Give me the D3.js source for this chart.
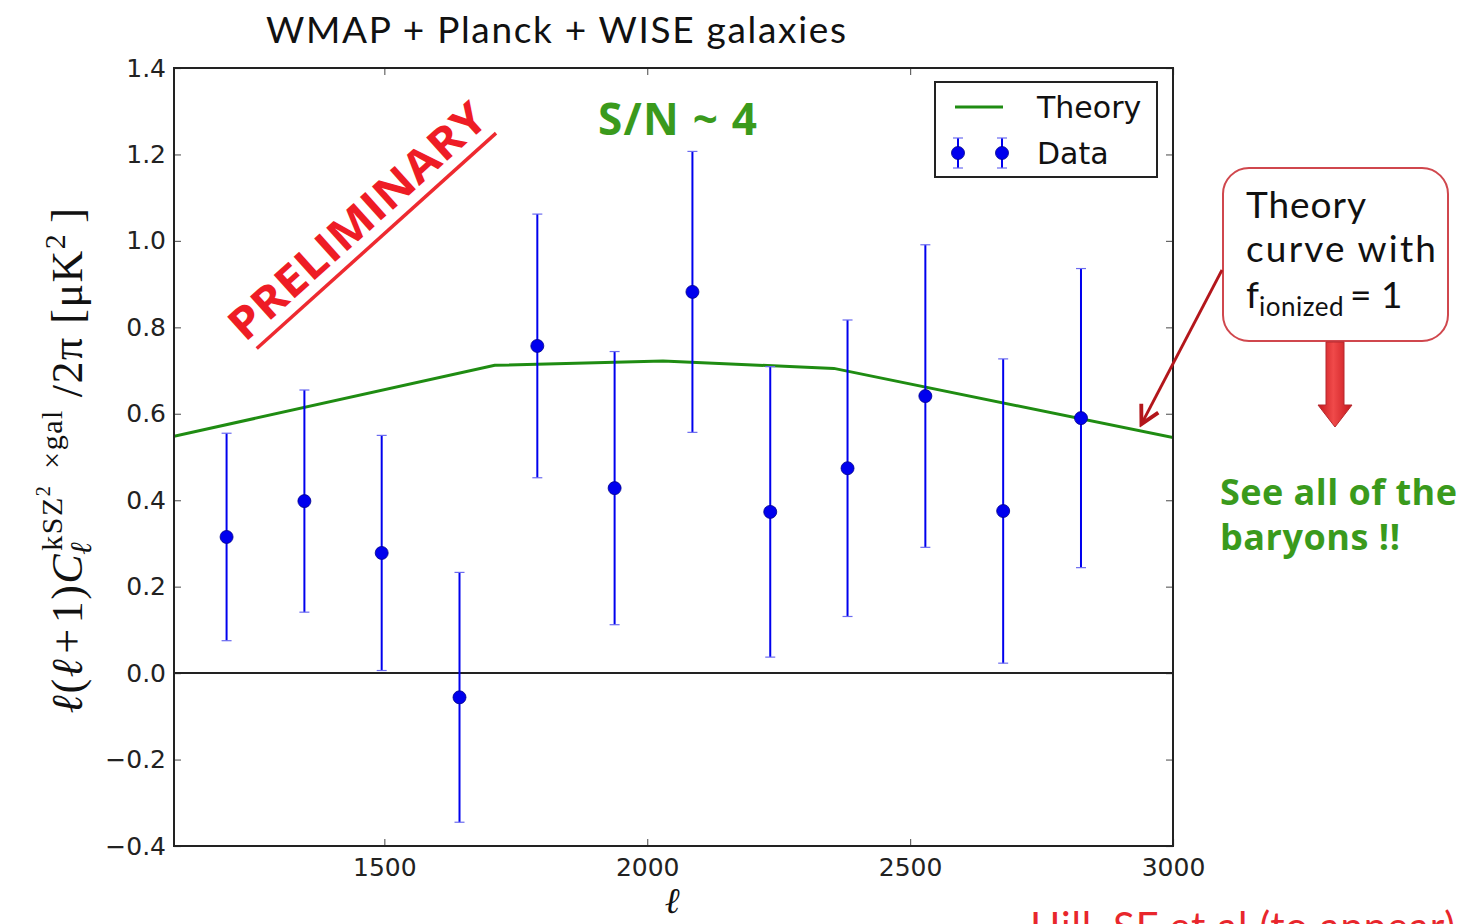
<!DOCTYPE html>
<html>
<head>
<meta charset="utf-8">
<script src="https://cdn.jsdelivr.net/npm/d3@7"></script>
<style>
  html, body { margin: 0; padding: 0; background: #fff; overflow: hidden; }
  svg { display: block; }
</style>
</head>
<body>
<svg id="chart" width="1469" height="924"></svg>
<script>
// Multipole bin centres (ℓ)
const ell = [1200, 1348, 1495, 1643, 1791, 1938, 2086, 2234, 2381, 2529, 2677, 2825];
// Measured kSZ² × galaxy cross-power, ℓ(ℓ+1)C_ℓ/2π [μK²]
const dataValues = [0.315, 0.398, 0.278, -0.056, 0.757, 0.428, 0.882, 0.373, 0.474, 0.641, 0.375, 0.590];
// 1σ error bars
const dataErrors = [0.240, 0.257, 0.272, 0.289, 0.305, 0.316, 0.325, 0.336, 0.343, 0.350, 0.352, 0.346];
// Theory curve (f_ionized = 1)
const theoryEll = [1100, 1710, 2030, 2355, 3000];
const theoryValues = [0.548, 0.712, 0.722, 0.705, 0.545];
// Axis ticks
const xTicks = [1500, 2000, 2500, 3000];
const yTicks = [-0.4, -0.2, 0.0, 0.2, 0.4, 0.6, 0.8, 1.0, 1.2, 1.4];

const svg = d3.select("#chart");
const plot = { left: 174, right: 1173, top: 68, bottom: 846 };

const x = d3.scaleLinear().domain([1100, 3000]).range([plot.left, plot.right]);
const y = d3.scaleLinear().domain([-0.4, 1.4]).range([plot.bottom, plot.top]);

const tickFont = "'DejaVu Sans', sans-serif";
const blue = "#0000ee";
const green = "#1f8c12";
const slideFont = "Lato, 'Open Sans', sans-serif";

// Title
svg.append("text")
  .attr("x", 266).attr("y", 43)
  .attr("font-family", slideFont)
  .attr("font-size", 37)
  .attr("fill", "#111")
  .attr("textLength", 580).attr("lengthAdjust", "spacing")
  .text("WMAP + Planck + WISE galaxies");

// Axes: ticks pointing inward on all four sides
const axisLeft = d3.axisLeft(y).tickValues(yTicks).tickSizeInner(-7).tickSizeOuter(0)
  .tickPadding(8).tickFormat(d => d3.format(".1f")(d).replace("-", "\u2212"));
const axisRight = d3.axisRight(y).tickValues(yTicks).tickSizeInner(-7).tickSizeOuter(0).tickFormat("");
const axisBottom = d3.axisBottom(x).tickValues(xTicks).tickSizeInner(-7).tickSizeOuter(0)
  .tickPadding(10).tickFormat(d3.format("d"));
const axisTop = d3.axisTop(x).tickValues(xTicks).tickSizeInner(-7).tickSizeOuter(0).tickFormat("");

function styleAxis(g) {
  g.select(".domain").remove();
  g.selectAll(".tick line").attr("stroke", "#666").attr("stroke-width", 1.2);
  g.selectAll(".tick text").attr("font-family", tickFont).attr("font-size", 25).attr("fill", "#222");
}
svg.append("g").attr("transform", `translate(${plot.left},0)`).call(axisLeft).call(styleAxis);
svg.append("g").attr("transform", `translate(${plot.right},0)`).call(axisRight).call(styleAxis);
svg.append("g").attr("transform", `translate(0,${plot.bottom})`).call(axisBottom).call(styleAxis)
  .selectAll(".tick text").attr("dy", "0.8em");
svg.append("g").attr("transform", `translate(0,${plot.top})`).call(axisTop).call(styleAxis);

// Zero line
svg.append("line")
  .attr("x1", plot.left).attr("x2", plot.right)
  .attr("y1", y(0)).attr("y2", y(0))
  .attr("stroke", "#222").attr("stroke-width", 2);

// Clip for plotted marks
const defs = svg.append("defs");
defs.append("clipPath").attr("id", "plotClip")
  .append("rect").attr("x", plot.left).attr("y", plot.top)
  .attr("width", plot.right - plot.left).attr("height", plot.bottom - plot.top);

const marks = svg.append("g").attr("clip-path", "url(#plotClip)");

// Theory line
const theory = theoryEll.map((l, i) => [l, theoryValues[i]]);
marks.append("path")
  .datum(theory)
  .attr("d", d3.line().x(d => x(d[0])).y(d => y(d[1])))
  .attr("fill", "none").attr("stroke", green).attr("stroke-width", 3);

// Data points with error bars
const data = ell.map((l, i) => ({ l, v: dataValues[i], e: dataErrors[i] }));
const pts = marks.selectAll("g.pt").data(data).join("g").attr("class", "pt");
pts.append("line")
  .attr("x1", d => x(d.l)).attr("x2", d => x(d.l))
  .attr("y1", d => y(d.v - d.e)).attr("y2", d => y(d.v + d.e))
  .attr("stroke", blue).attr("stroke-width", 2);
[-1, 1].forEach(s => {
  pts.append("line")
    .attr("x1", d => x(d.l) - 5).attr("x2", d => x(d.l) + 5)
    .attr("y1", d => y(d.v + s * d.e)).attr("y2", d => y(d.v + s * d.e))
    .attr("stroke", "#6b6bf0").attr("stroke-width", 1.2);
});
pts.append("circle")
  .attr("cx", d => x(d.l)).attr("cy", d => y(d.v)).attr("r", 6.5)
  .attr("fill", blue).attr("stroke", "#00008a").attr("stroke-width", 0.8);

// Frame
svg.append("rect")
  .attr("x", plot.left).attr("y", plot.top)
  .attr("width", plot.right - plot.left).attr("height", plot.bottom - plot.top)
  .attr("fill", "none").attr("stroke", "#222").attr("stroke-width", 2);

// Legend
const lg = svg.append("g");
lg.append("rect").attr("x", 935).attr("y", 82).attr("width", 222).attr("height", 95)
  .attr("fill", "#fff").attr("stroke", "#222").attr("stroke-width", 2);
lg.append("line").attr("x1", 955).attr("x2", 1003).attr("y1", 107).attr("y2", 107)
  .attr("stroke", green).attr("stroke-width", 3);
lg.append("text").attr("x", 1037).attr("y", 118)
  .attr("font-family", tickFont).attr("font-size", 30).attr("fill", "#111").text("Theory");
[958, 1002].forEach(cx => {
  lg.append("line").attr("x1", cx).attr("x2", cx).attr("y1", 138).attr("y2", 168)
    .attr("stroke", blue).attr("stroke-width", 2);
  [138, 168].forEach(cy => lg.append("line").attr("x1", cx - 5).attr("x2", cx + 5)
    .attr("y1", cy).attr("y2", cy).attr("stroke", "#6b6bf0").attr("stroke-width", 1.2));
  lg.append("circle").attr("cx", cx).attr("cy", 153).attr("r", 6.5)
    .attr("fill", blue).attr("stroke", "#00008a").attr("stroke-width", 0.8);
});
lg.append("text").attr("x", 1037).attr("y", 164)
  .attr("font-family", tickFont).attr("font-size", 30).attr("fill", "#111").text("Data");

// Axis labels
const serif = "'DejaVu Serif', 'Liberation Serif', serif";
svg.append("text")
  .attr("x", 672).attr("y", 913)
  .attr("text-anchor", "middle")
  .attr("font-family", serif).attr("font-style", "italic")
  .attr("font-size", 36).attr("fill", "#111").text("ℓ");

const yl = svg.append("text")
  .attr("transform", "translate(82,460) rotate(-90)")
  .attr("text-anchor", "middle")
  .attr("font-family", "'Liberation Serif', 'DejaVu Serif', serif")
  .attr("font-size", 44).attr("letter-spacing", 1.5).attr("fill", "#111");
yl.append("tspan").attr("font-style", "italic").text("ℓ");
yl.append("tspan").text("(");
yl.append("tspan").attr("font-style", "italic").text("ℓ");
yl.append("tspan").attr("dx", 4).text("+");
yl.append("tspan").attr("dx", 4).text("1)");
yl.append("tspan").attr("font-style", "italic").text("C");
yl.append("tspan").attr("font-style", "italic").attr("font-size", 30).attr("dy", 9).attr("dx", -2).text("ℓ");
yl.append("tspan").attr("font-size", 30).attr("dy", -29).attr("dx", -10).text("kSZ");
yl.append("tspan").attr("font-size", 20).attr("dy", -12).text("2");
yl.append("tspan").attr("font-size", 30).attr("dy", 12).attr("dx", 16).text("×gal");
yl.append("tspan").attr("dy", 20).attr("dx", 12).text("/2π [μK");
yl.append("tspan").attr("font-size", 30).attr("dy", -17).text("2");
yl.append("tspan").attr("dy", 17).attr("dx", 10).text("]");

// Significance annotation
svg.append("text")
  .attr("x", 598).attr("y", 135)
  .attr("font-family", "'Open Sans', 'DejaVu Sans', sans-serif")
  .attr("font-weight", 700).attr("font-size", 44)
  .attr("textLength", 159).attr("lengthAdjust", "spacing")
  .attr("fill", "#3a9a1c").text("S/N ~ 4");

// PRELIMINARY stamp
const stamp = svg.append("g").attr("transform", "translate(245,343) rotate(-42)");
stamp.append("text")
  .attr("x", 0).attr("y", 0)
  .attr("font-family", "'Open Sans', 'DejaVu Sans', sans-serif")
  .attr("font-weight", 700).attr("font-size", 44)
  .attr("fill", "#ee1c25").attr("textLength", 330).attr("lengthAdjust", "spacingAndGlyphs")
  .text("PRELIMINARY");
stamp.append("line").attr("x1", 5).attr("x2", 327).attr("y1", 12).attr("y2", 12)
  .attr("stroke", "#ee2a30").attr("stroke-width", 3.5);

// Callout box
const callout = svg.append("g");
callout.append("rect").attr("x", 1223).attr("y", 168).attr("width", 225).attr("height", 173)
  .attr("rx", 26).attr("ry", 26)
  .attr("fill", "#fff").attr("stroke", "#d0474d").attr("stroke-width", 2);
callout.append("text").attr("x", 1246).attr("y", 218)
  .attr("font-family", slideFont).attr("font-size", 37).attr("fill", "#111")
  .attr("textLength", 120).attr("lengthAdjust", "spacing").text("Theory");
callout.append("text").attr("x", 1246).attr("y", 262)
  .attr("font-family", slideFont).attr("font-size", 37).attr("fill", "#111")
  .attr("textLength", 190).attr("lengthAdjust", "spacing").text("curve with");
const fi = callout.append("text").attr("x", 1246).attr("y", 308)
  .attr("font-family", slideFont).attr("font-size", 37).attr("fill", "#111");
fi.append("tspan").text("f");
fi.append("tspan").attr("font-size", 26).attr("dy", 8).attr("letter-spacing", 0.5).text("ionized");
fi.append("tspan").attr("dy", -8).attr("dx", 6).text("= 1");

// Pointer arrow from callout to theory curve
defs.append("marker").attr("id", "arrowHead")
  .attr("viewBox", "0 0 20 20").attr("refX", 16).attr("refY", 10)
  .attr("markerWidth", 24).attr("markerHeight", 24).attr("orient", "auto")
  .attr("markerUnits", "userSpaceOnUse")
  .append("path").attr("d", "M2,2 L17,10 L2,18").attr("fill", "none")
  .attr("stroke", "#b3161b").attr("stroke-width", 3.2);
svg.append("line")
  .attr("x1", 1222).attr("y1", 270).attr("x2", 1142).attr("y2", 423)
  .attr("stroke", "#b3161b").attr("stroke-width", 2.8)
  .attr("marker-end", "url(#arrowHead)");

// Block arrow below the callout
const grad = defs.append("linearGradient").attr("id", "blockGrad")
  .attr("x1", 0).attr("x2", 1).attr("y1", 0).attr("y2", 0);
grad.append("stop").attr("offset", 0).attr("stop-color", "#c5161c");
grad.append("stop").attr("offset", 0.45).attr("stop-color", "#f04a4a");
grad.append("stop").attr("offset", 1).attr("stop-color", "#c5161c");
svg.append("path")
  .attr("d", "M1326,342 L1344,342 L1344,405 L1352,405 L1335,427 L1318,405 L1326,405 Z")
  .attr("fill", "url(#blockGrad)").attr("stroke", "#b5292e").attr("stroke-width", 1);

// Conclusion text
const concl = svg.append("g")
  .attr("font-family", "'Open Sans', 'DejaVu Sans', sans-serif")
  .attr("font-weight", 700).attr("font-size", 36).attr("fill", "#3a9a1c");
concl.append("text").attr("x", 1220).attr("y", 505)
  .attr("textLength", 237).attr("lengthAdjust", "spacing").text("See all of the");
concl.append("text").attr("x", 1220).attr("y", 550)
  .attr("textLength", 180).attr("lengthAdjust", "spacing").text("baryons !!");

// Reference line at the bottom edge
svg.append("text")
  .attr("x", 1030).attr("y", 941)
  .attr("font-family", slideFont).attr("font-size", 40).attr("fill", "#e8262c")
  .attr("textLength", 425).attr("lengthAdjust", "spacing")
  .text("Hill, SF et al (to appear)");
</script>
</body>
</html>
